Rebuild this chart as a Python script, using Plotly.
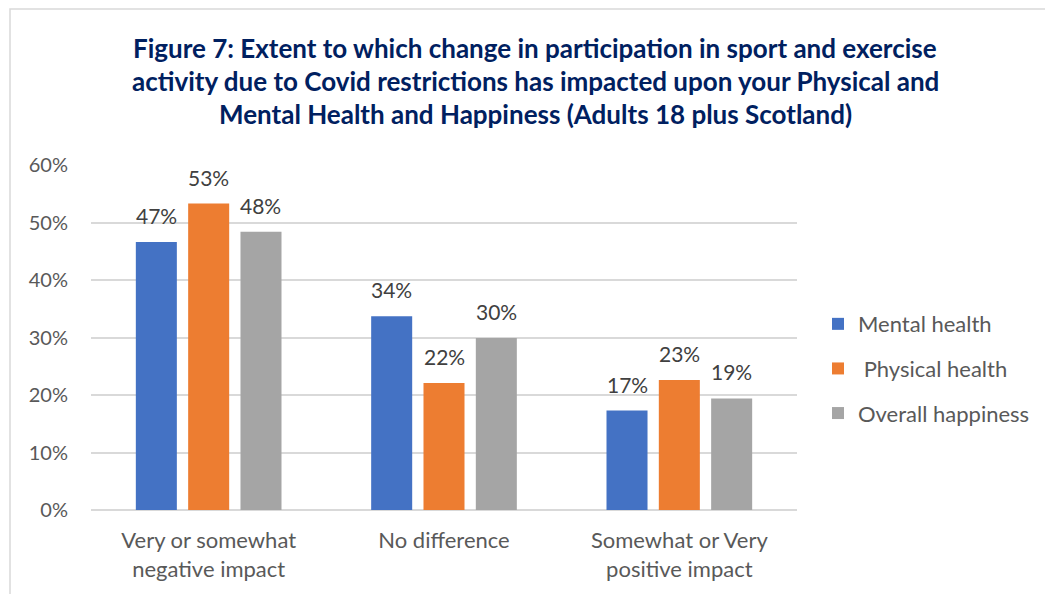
import plotly.graph_objects as go

categories = ["Very or somewhat<br>negative impact", "No difference", "Somewhat or Very<br>positive impact"]
series_names = ["Mental health", " Physical health", "Overall happiness"]
mental_health = [46.6, 33.7, 17.3]
physical_health = [53.3, 22.1, 22.6]
overall_happiness = [48.4, 29.9, 19.4]
series_values = [mental_health, physical_health, overall_happiness]
colors = ["#4472C4", "#ED7D31", "#A5A5A5"]
y_ticks = [0, 10, 20, 30, 40, 50, 60]
y_tick_labels = [f"{t}%" for t in y_ticks]

title_lines = [
    "Figure 7: Extent to which change in participation in sport and exercise",
    "activity due to Covid restrictions has impacted upon your Physical and",
    "Mental Health and Happiness (Adults 18 plus Scotland)",
]

FONT = "Lato, 'Open Sans', sans-serif"
TEXT_COLOR = "#595959"
BARGAP = 0.333
BARGROUPGAP = 0.216

# plot area in pixels
W, H = 1045, 594
L, R, T, B = 91, 248, 165, 84
PW, PH = W - L - R, H - T - B

x_idx = list(range(len(categories)))
n_series = len(series_values)
slot = (1 - BARGAP) / n_series

fig = go.Figure()
for j, (name, vals, col) in enumerate(zip(series_names, series_values, colors)):
    fig.add_trace(go.Bar(
        x=x_idx, y=vals, name=name, marker_color=col,
        marker_line_width=0, legendgroup=name,
    ))
    # value labels above each bar
    for i, v in enumerate(vals):
        fig.add_annotation(
            x=i + (j - (n_series - 1) / 2) * slot, y=v, xref="x", yref="y",
            text=f"{v:.0f}%", showarrow=False, yanchor="bottom", yshift=12,
            font=dict(family=FONT, size=21, color="#404040"),
        )

# title, one annotation per line
for k, line in enumerate(title_lines):
    fig.add_annotation(
        x=0.5, xref="paper", y=1 + (T - 48 - 33 * k) / PH, yref="paper",
        text=f"<b>{line}</b>", showarrow=False, yanchor="middle", xanchor="center",
        xshift=91,
        font=dict(family=FONT, size=26, color="#002060"),
    )

# outer frame
fig.add_shape(
    type="rect", xref="paper", yref="paper",
    x0=(10 - L) / PW, x1=2, y0=-0.5, y1=1 + (T - 9) / PH,
    line=dict(color="#D9D9D9", width=1.5), layer="below",
)

fig.update_layout(
    width=W, height=H,
    margin=dict(l=L, r=R, t=T, b=B, autoexpand=False),
    paper_bgcolor="white", plot_bgcolor="white",
    bargap=BARGAP, bargroupgap=BARGROUPGAP, barmode="group",
    font=dict(family=FONT, color=TEXT_COLOR),
    showlegend=True,
    legend=dict(
        xref="container", x=818 / W, xanchor="left",
        y=0.41, yanchor="middle",
        font=dict(family=FONT, size=22, color=TEXT_COLOR),
        tracegroupgap=13, itemwidth=30, bgcolor="rgba(0,0,0,0)",
    ),
    xaxis=dict(
        tickmode="array", tickvals=x_idx, ticktext=categories,
        range=[-0.5, len(categories) - 0.5],
        showgrid=False, zeroline=False, showline=False, ticks="",
        tickfont=dict(family=FONT, size=22, color=TEXT_COLOR),
        ticklabelstandoff=15,
    ),
    yaxis=dict(
        range=[0, 60], tickmode="array", tickvals=y_ticks, ticktext=y_tick_labels,
        showgrid=True, gridcolor="#D9D9D9", gridwidth=1.5,
        zeroline=True, zerolinecolor="#D9D9D9", zerolinewidth=1.5,
        showline=False, ticks="",
        tickfont=dict(family=FONT, size=20, color=TEXT_COLOR),
        ticklabelstandoff=22,
    ),
)

fig.write_html("out.html")
